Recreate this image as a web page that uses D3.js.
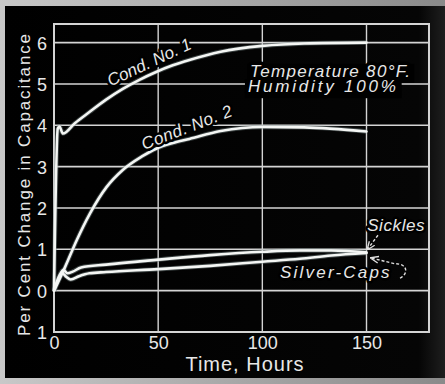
<!DOCTYPE html>
<html><head><meta charset="utf-8">
<script src="https://cdn.jsdelivr.net/npm/d3@7"></script>
<style>
html,body{margin:0;padding:0;background:#000;}
svg{display:block;}
</style></head>
<body><svg id="c" width="445" height="384"></svg>
<script>
// ---- data ----
const xTicks = [0, 50, 100, 150];
const yTicks = [-1, 0, 1, 2, 3, 4, 5, 6];
const yTickLabels = ["1", "0", "1", "2", "3", "4", "5", "6"];
const xTitle = "Time, Hours";
const yTitle = "Per Cent Change in Capacitance";

const cond1T = [0, 1.8, 2.6, 4.3, 10, 17, 25, 33, 41, 49, 57, 65, 80, 100, 120, 150];
const cond1V = [0, 3.92, 3.97, 3.8, 4.05, 4.32, 4.62, 4.88, 5.1, 5.29, 5.45, 5.58, 5.78, 5.92, 5.98, 6.0];

const cond2T = [0, 5.3, 10.9, 17.3, 25.3, 33, 42, 49.3, 57, 65, 80, 100, 120, 150];
const cond2V = [0, 0.57, 1.22, 1.87, 2.51, 2.92, 3.24, 3.44, 3.57, 3.67, 3.86, 3.96, 3.95, 3.85];

const sicklesT = [0, 2, 4.5, 6.5, 9, 13, 25, 50, 75, 100, 118, 133, 150];
const sicklesV = [0, 0.3, 0.5, 0.42, 0.46, 0.56, 0.63, 0.75, 0.86, 0.94, 0.97, 0.97, 0.93];

const silverT = [0, 2, 4, 6, 8, 12, 17, 25, 50, 75, 100, 118, 133, 150];
const silverV = [0, 0.25, 0.42, 0.33, 0.27, 0.35, 0.42, 0.45, 0.52, 0.6, 0.7, 0.77, 0.85, 0.91];

const seriesNames = ["Cond. No. 1", "Cond. No. 2", "Sickles", "Silver-Caps"];
const note1 = "Temperature 80°F.";
const note2 = "Humidity 100%";

// ---- drawing ----
const svg = d3.select("#c");
const W = 445, H = 384;
const x = d3.scaleLinear().domain([0, 180]).range([54, 429]);
const y = d3.scaleLinear().domain([-1, 6.45]).range([332, 24]);
const FONT = "'Liberation Sans', Arial, sans-serif";
const INK = "#e8e8e8";

const defs = svg.append("defs");
const g = defs.append("linearGradient").attr("id", "bg").attr("x1", 0).attr("x2", 1);
g.append("stop").attr("offset", "0%").attr("stop-color", "#000");
g.append("stop").attr("offset", "94%").attr("stop-color", "#050505");
g.append("stop").attr("offset", "100%").attr("stop-color", "#1e1e1e");
const tg = defs.append("linearGradient").attr("id", "top").attr("x1", 0).attr("x2", 1);
tg.append("stop").attr("offset", "0%").attr("stop-color", "#c8c8c8");
tg.append("stop").attr("offset", "100%").attr("stop-color", "#8a8a8a");
defs.append("marker").attr("id", "arr").attr("viewBox", "0 0 10 10")
  .attr("refX", 9).attr("refY", 5).attr("markerWidth", 6).attr("markerHeight", 6)
  .attr("orient", "auto")
  .append("path").attr("d", "M0,1 L10,5 L0,9").attr("fill", "none")
  .attr("stroke", "#e0e0e0").attr("stroke-width", 1.6);

// photo frame
svg.append("rect").attr("width", W).attr("height", H).attr("fill", "url(#top)");
svg.append("rect").attr("x", 5).attr("y", 6).attr("width", W - 5).attr("height", 372).attr("fill", "url(#bg)");

const gridCol = "#d4d4d4";
const grid = svg.append("g");
grid.selectAll("line.h").data(yTicks.filter(d => d >= 0)).join("line")
  .attr("x1", x(0)).attr("x2", x(180)).attr("y1", d => y(d)).attr("y2", d => y(d))
  .attr("stroke", gridCol).attr("stroke-width", 1.6);
grid.selectAll("line.v").data(xTicks.filter(d => d > 0)).join("line")
  .attr("y1", y(-1)).attr("y2", y(6.45)).attr("x1", d => x(d)).attr("x2", d => x(d))
  .attr("stroke", gridCol).attr("stroke-width", 1.4);
grid.append("rect").attr("x", x(0)).attr("y", y(6.45)).attr("width", x(180) - x(0))
  .attr("height", y(-1) - y(6.45)).attr("fill", "none").attr("stroke", gridCol).attr("stroke-width", 2);

// axes (labels only)
const xAxis = d3.axisBottom(x).tickValues(xTicks).tickSize(0).tickPadding(4);
const ax = svg.append("g").attr("transform", `translate(0,${y(-1)})`).call(xAxis);
const yAxis = d3.axisLeft(y).tickValues(yTicks).tickSize(0).tickPadding(6)
  .tickFormat((d, i) => yTickLabels[i]);
const ay = svg.append("g").attr("transform", `translate(${x(0) - 1},0)`).call(yAxis);
[ax, ay].forEach(a => {
  a.select(".domain").remove();
  a.selectAll("text").attr("fill", INK)
    .style("font-family", FONT).style("font-size", "18px");
});
ay.selectAll("text").attr("dy", "0.36em");

svg.append("text").text(xTitle).attr("x", 245).attr("y", 371)
  .attr("text-anchor", "middle").attr("fill", INK).style("letter-spacing", "1px")
  .style("font-family", FONT).style("font-size", "20px");
svg.append("text").text(yTitle)
  .attr("transform", `translate(30,${(y(-1) + y(6.45)) / 2 + 7}) rotate(-90)`)
  .attr("text-anchor", "middle").attr("fill", INK)
  .attr("textLength", 302).attr("lengthAdjust", "spacing")
  .style("font-family", FONT).style("font-size", "17px");

// curves
const line = d3.line().x(d => x(d[0])).y(d => y(d[1])).curve(d3.curveMonotoneX);
const series = [
  d3.zip(cond1T, cond1V), d3.zip(cond2T, cond2V),
  d3.zip(sicklesT, sicklesV), d3.zip(silverT, silverV)
];
const curves = svg.append("g");
curves.selectAll("path.glow").data(series).join("path")
  .attr("d", line).attr("fill", "none").attr("stroke", "#7a8a8a")
  .attr("stroke-width", 4.5).attr("stroke-opacity", 0.45).attr("stroke-linejoin", "round");
curves.selectAll("path.main").data(series).join("path")
  .attr("d", line).attr("fill", "none").attr("stroke", "#f4f6f4")
  .attr("stroke-width", 2.6).attr("stroke-linejoin", "round").attr("stroke-linecap", "round");

// labels
const noteBg = svg.append("g");
function label(txt, tx, ty, rot, anchor, spacing, halo) {
  return svg.append("text").text(txt)
    .attr("transform", `translate(${x(tx)},${y(ty)}) rotate(${rot})`)
    .attr("text-anchor", anchor)
    .attr("fill", INK).attr("stroke", "#000").attr("stroke-width", halo)
    .attr("paint-order", "stroke").attr("stroke-linejoin", "round")
    .style("letter-spacing", spacing + "px")
    .style("font-family", FONT).style("font-style", "italic")
    .style("font-size", "17px");
}
label(seriesNames[0], 46.8, 5.4, -25, "middle", 0, 5);
label(seriesNames[1], 64.8, 3.82, -21, "middle", 0.5, 5);
const n1 = label(note1, 94.1, 5.17, 0, "start", 1.3, 7);
const n2 = label(note2, 93.1, 4.8, 0, "start", 2.8, 7);
label(seriesNames[2], 150.3, 1.44, 0, "start", 0.6, 5);
label(seriesNames[3], 108.5, 0.3, 0, "start", 2.2, 5);

// black block behind the notes (blanks the gridline between them)
[n1, n2].forEach(n => {
  const b = n.node().getBBox();
  const t = n.attr("transform").match(/translate\(([^,]+),([^)]+)\)/);
  noteBg.append("rect").attr("x", +t[1] + b.x - 3).attr("y", +t[2] + b.y + 2)
    .attr("width", b.width + 6).attr("height", b.height).attr("fill", "#000");
});

// annotation arrows
const arrowStyle = sel => sel.attr("fill", "none").attr("stroke", "#e0e0e0")
  .attr("stroke-width", 1.4).attr("stroke-dasharray", "3,2").attr("marker-end", "url(#arr)");
svg.append("path")
  .attr("d", `M${x(155.5)},${y(1.34)} L${x(150.5)},${y(1.0)}`).call(arrowStyle);
svg.append("path")
  .attr("d", `M${x(166.1)},${y(0.3)} C${x(170.5)},${y(0.42)} ${x(169.5)},${y(0.66)} ${x(163.7)},${y(0.65)} L${x(152.2)},${y(0.79)}`)
  .call(arrowStyle);
</script></body></html>
